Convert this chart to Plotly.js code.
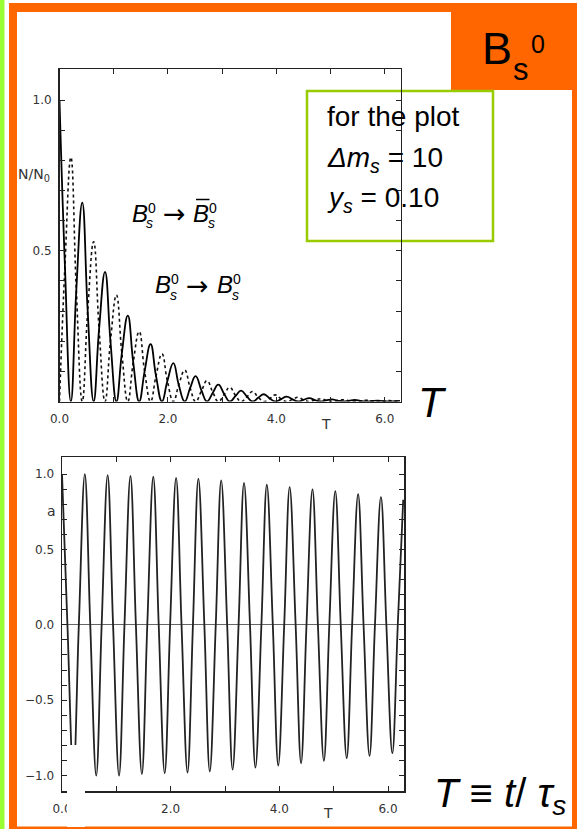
<!DOCTYPE html>
<html>
<head>
<meta charset="utf-8">
<script src="https://cdn.plot.ly/plotly-3.0.1.min.js"></script>
<style>html,body{margin:0;padding:0;background:#fff;}#chart{width:577px;height:829px;}</style>
</head>
<body>
<div id="chart"></div>
<script>
// ---- data (T = t / tau_s) ----
const T = [0.00,0.10,0.21,0.31,0.42,0.52,0.63,0.73,0.84,0.94,1.05,1.15,1.26,1.36,1.47,1.57,1.68,1.78,1.89,1.99,
           2.10,2.20,2.31,2.41,2.51,2.62,2.72,2.83,2.93,3.04,3.14,3.25,3.35,3.46,3.56,3.67,3.77,3.88,3.98,4.09,
           4.19,4.30,4.40,4.50,4.61,4.71,4.82,4.92,5.03,5.13,5.24,5.34,5.45,5.55,5.66,5.76,5.87,5.97,6.08,6.18,6.28];

// N/N0 for Bs0 -> Bs0 (solid)
const nUnmixed = [1.00,0.45,0,0.37,0.66,0.30,0,0.24,0.43,0.20,0,0.16,0.285,0.13,0,0.10,0.19,0.085,0,0.068,
                  0.127,0.055,0,0.045,0.084,0.036,0,0.030,0.056,0.024,0,0.019,0.036,0.016,0,0.013,0.024,0.010,0,0.008,
                  0.016,0.007,0,0.0055,0.011,0.0045,0,0.0037,0.007,0.003,0,0.0024,0.005,0.002,0,0.0016,0.003,0.0013,0,0.001,0.002];

// N/N0 for Bs0 -> anti-Bs0 (dotted)
const nMixed = [0,0.45,0.81,0.37,0,0.30,0.53,0.24,0,0.20,0.353,0.16,0,0.13,0.232,0.10,0,0.085,0.158,0.068,
                0,0.055,0.104,0.045,0,0.036,0.069,0.030,0,0.024,0.047,0.019,0,0.016,0.033,0.013,0,0.010,0.022,0.008,
                0,0.007,0.014,0.0055,0,0.0045,0.009,0.0037,0,0.003,0.006,0.0024,0,0.002,0.004,0.0016,0,0.0013,0.003,0.001,0];

// asymmetry a(T)
const asym = [1.00,0,-1.00,0,1.00,0,-1.00,0,0.993,0,-1.00,0,0.987,0,-0.99,0,0.982,0,-0.985,0,
              0.975,0,-0.98,0,0.969,0,-0.973,0,0.958,0,-0.96,0,0.942,0,-0.947,0,0.929,0,-0.933,0,
              0.913,0,-0.918,0,0.898,0,-0.902,0,0.887,0,-0.884,0,0.867,0,-0.869,0,0.849,0,-0.851,0,0.83];

const xTickVals = [0,1,2,3,4,5,6];
const xTickText = ['0.0','','2.0','','4.0','','6.0'];
const topYTickVals = [0,0.1,0.2,0.3,0.4,0.5,0.6,0.7,0.8,0.9,1.0,1.1];
const topYTickText = ['','','','','','0.5','','','','','1.0',''];
const botYTickVals = [-1.0,-0.9,-0.8,-0.7,-0.6,-0.5,-0.4,-0.3,-0.2,-0.1,0,0.1,0.2,0.3,0.4,0.5,0.6,0.7,0.8,0.9,1.0];
const botYTickText = ['\u22121.0','','','','','\u22120.5','','','','','0.0','','','','','0.5','','','','','1.0'];

// ---- layout helpers ----
const W = 577, H = 829;
const px = x => x / W;
const py = y => 1 - y / H;
const SLIDE = 'Liberation Sans, Arial, sans-serif';
const PLOTF = 'DejaVu Sans, sans-serif';

function ann(text, x, y, size, opt) {
  opt = opt || {};
  return Object.assign({
    text: text, x: px(x), y: py(y), xref: 'paper', yref: 'paper',
    xanchor: 'center', yanchor: 'middle', showarrow: false,
    font: {family: SLIDE, size: size, color: '#000'}
  }, opt);
}

const axisCommon = {
  showline: true, linecolor: '#222', linewidth: 1.5, mirror: 'ticks',
  ticks: 'inside', ticklen: 5, tickwidth: 1, tickcolor: '#222',
  showgrid: false, zeroline: false, fixedrange: true,
  tickfont: {family: PLOTF, size: 12, color: '#333'}
};

const traces = [
  {x: T, y: nMixed, xaxis: 'x', yaxis: 'y', mode: 'lines',
   line: {color: '#111', width: 1.6, dash: 'dot', shape: 'spline', smoothing: 1.3}, hoverinfo: 'skip'},
  {x: T, y: nUnmixed, xaxis: 'x', yaxis: 'y', mode: 'lines',
   line: {color: '#000', width: 1.8, shape: 'spline', smoothing: 1.3}, hoverinfo: 'skip'},
  {x: T, y: asym, xaxis: 'x2', yaxis: 'y2', mode: 'lines',
   line: {color: '#222', width: 1.8, shape: 'spline', smoothing: 1.1}, hoverinfo: 'skip'}
];

const shapes = [
  {type:'rect', xref:'paper', yref:'paper', x0:0, x1:px(4.5), y0:0, y1:1, fillcolor:'#99ff33', line:{width:0}, layer:'below'},
  {type:'rect', xref:'paper', yref:'paper', x0:px(9), x1:1, y0:0, y1:py(3), fillcolor:'#ff6600', line:{width:0}, layer:'below'},
  {type:'rect', xref:'paper', yref:'paper', x0:px(17), x1:px(572), y0:py(826.5), y1:py(12), fillcolor:'#ffffff', line:{width:0}, layer:'below'},
  {type:'rect', xref:'paper', yref:'paper', x0:px(451), x1:px(572), y0:py(90), y1:py(12), fillcolor:'#ff6600', line:{width:0}, layer:'below'},
  {type:'rect', xref:'paper', yref:'paper', x0:px(307), x1:px(493), y0:py(241), y1:py(91), fillcolor:'rgba(0,0,0,0)', line:{color:'#99cc00', width:2.5}, layer:'below'},
  {type:'rect', xref:'paper', yref:'paper', x0:px(67), x1:px(85), y0:py(827), y1:py(745), fillcolor:'#ffffff', line:{width:0}, layer:'above'},
  {type:'line', xref:'paper', yref:'paper', x0:px(196), x1:px(209.5), y0:py(199.5), y1:py(199.5), line:{color:'#000', width:1.5}, layer:'above'}
];

const annotations = [
  // orange box title B_s^0
  ann('B', 496.7, 48.7, 45),
  ann('s', 520.5, 69, 31),
  ann('0', 537.5, 44, 25),
  // green box
  ann('for the plot', 325, 117, 28, {xanchor:'left'}),
  ann('<i>\u0394m</i><sub><i>s</i></sub> = 10', 325, 160, 28, {xanchor:'left'}),
  ann('<i>y</i><sub><i>s</i></sub> = 0.10', 325, 199, 28, {xanchor:'left'}),
  // B_s^0 -> anti-B_s^0
  ann('<i>B</i>', 140, 213, 24),
  ann('0', 151.7, 207.5, 14),
  ann('<i>s</i>', 149, 223, 14),
  ann('\u2192', 174.5, 213, 27, {font:{family:PLOTF, size:27, color:'#000'}}),
  ann('<i>B</i>', 201.3, 213, 24),
  ann('0', 213.3, 207.5, 14),
  ann('<i>s</i>', 211, 223, 14),
  // B_s^0 -> B_s^0
  ann('<i>B</i>', 163.3, 284, 24),
  ann('0', 175, 278.5, 14),
  ann('<i>s</i>', 173.7, 294.5, 14),
  ann('\u2192', 197, 285, 27, {font:{family:PLOTF, size:27, color:'#000'}}),
  ann('<i>B</i>', 225, 284, 24),
  ann('0', 236.7, 278.5, 14),
  ann('<i>s</i>', 235.5, 294.5, 14),
  // axis titles inside pictures
  ann('N/N<sub>0</sub>', 34, 175, 14, {font:{family:PLOTF, size:14, color:'#333'}}),
  ann('T', 326, 424, 14, {font:{family:PLOTF, size:14, color:'#333'}}),
  ann('a', 51, 511, 14, {font:{family:PLOTF, size:14, color:'#333'}}),
  ann('T', 328, 813, 14, {font:{family:PLOTF, size:14, color:'#333'}}),
  // big slide labels
  ann('<i>T</i>', 432, 402, 42),
  ann('<i>T</i> \u2261 <i>t</i>/ <i>\u03c4</i><sub><i>s</i></sub>', 568, 796, 40, {xanchor:'right'})
];

const layout = {
  width: W, height: H,
  margin: {l:0, r:0, t:0, b:0},
  paper_bgcolor: '#ffffff', plot_bgcolor: 'rgba(0,0,0,0)',
  showlegend: false,
  xaxis: Object.assign({}, axisCommon, {domain:[px(59.5), px(400.5)], range:[0, 6.29], anchor:'y',
    tickmode:'array', tickvals:xTickVals, ticktext:xTickText, ticklabelstandoff: 6}),
  yaxis: Object.assign({}, axisCommon, {domain:[py(401.5), py(69)], range:[0, 1.103], anchor:'x',
    tickmode:'array', tickvals:topYTickVals, ticktext:topYTickText, ticklabelstandoff: 4}),
  xaxis2: Object.assign({}, axisCommon, {domain:[px(62), px(404.3)], range:[0, 6.30], anchor:'y2',
    tickmode:'array', tickvals:xTickVals, ticktext:xTickText, ticklabelstandoff: 6}),
  yaxis2: Object.assign({}, axisCommon, {domain:[py(791.3), py(457.3)], range:[-1.104, 1.111], anchor:'x2',
    tickmode:'array', tickvals:botYTickVals, ticktext:botYTickText, ticklabelstandoff: 4,
    zeroline: true, zerolinecolor:'#666', zerolinewidth:1}),
  shapes: shapes,
  annotations: annotations
};

Plotly.newPlot('chart', traces, layout, {staticPlot: true, displayModeBar: false});
</script>
</body>
</html>
